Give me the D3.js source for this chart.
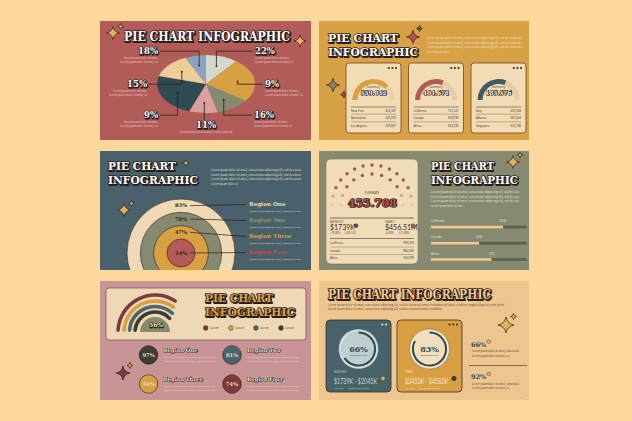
<!DOCTYPE html>
<html><head><meta charset="utf-8">
<script src="https://cdn.jsdelivr.net/npm/d3@7"></script>
<style>html,body{margin:0;padding:0;background:#FDD89D;}svg{display:block}</style>
</head><body>
<svg id="c" width="632" height="421"></svg>
<script>
// ---------------- DATA ----------------
const pieValues = [10.6, 24.4, 11.1, 9.4, 23.9, 13.6, 6.9];
const pieLabels = ['22%', '9%', '16%', '11%', '9%', '15%', '18%'];

const gaugeTotals = ['559.842', '404.671', '185.576'];
const gaugeShares = [75, 62, 62];
const gaugeCities = [['New York', 'Manhattan', 'Los Angeles'], ['California', 'Canada', 'Africa'], ['Italy', 'Albania', 'Singapore']];
const gaugeCityValues = [['332,347', '245,970', '235,847'], ['752,522', '369,590', '334,290'], ['492,328', '382,654', '332,784']];

const ringValues = [83, 78, 47, 14];
const ringRegions = ['Region One', 'Region Two', 'Region Three', 'Region Four'];

const summaryTotal = '455.708';
const summaryDots = [15, 11];
const summaryStats = [['MONTHLY', '$1739K', '+35.80%', '1,439.52K'], ['YEARLY', '$456.51M', '+4.86%', '$72.80M']];
const summaryCities = ['California', 'Canada', 'Africa'];
const summaryCityValues = ['993,323', '864,030', '334,990'];
const barCategories = ['California', 'Canada', 'Africa'];
const barValues = [75, 50, 63];
const barLabels = ['83%', '64%', '72%'];

const rainbowValues = [70, 72, 76, 79];
const rainbowCenter = '56%';
const legendItems = ['Lorem', 'Lorem', 'Lorem', 'Lorem'];
const regionValues = [97, 81, 56, 74];
const regionNames = ['Region One', 'Region Two', 'Region Three', 'Region Four'];

const rateValues = [66, 83];
const rateStats = [['MONTHLY', '$1739K - $2045K'], ['YEARLY', '$3452K - $4582K']];
const sideValues = [66, 92];

// ---------------- HELPERS ----------------
const svg = d3.select('#c');
const INK = '#2a1e1b';
const LOREM = 'Lorem ipsum dolor sit amet, consectetur adipiscing elit, sed do eiusmod tempor incididunt ut labore et dolore magna aliqua ut enim ad minim veniam';

function title(g, text, x, y, size, len, fill, anchor, sw) {
  sw = sw || 1;
  const set = s => {
    s.attr('x', x).attr('y', y).attr('font-family', 'DejaVu Serif').attr('font-weight', 'bold')
      .attr('font-size', size).attr('text-anchor', anchor || 'start').attr('stroke-linejoin', 'round').text(text);
    if (len) s.attr('textLength', len).attr('lengthAdjust', 'spacingAndGlyphs');
  };
  g.append('text').call(set).attr('transform', `translate(${size * 0.07},${size * 0.09})`)
    .attr('fill', INK).attr('stroke', INK).attr('stroke-width', size * 0.16 * sw);
  g.append('text').call(set).attr('fill', fill).attr('stroke', INK)
    .attr('stroke-width', size * 0.14 * sw).attr('paint-order', 'stroke');
}
function sparkle(g, cx, cy, r, fill) {
  const k = r * 0.16;
  const p = `M${cx},${cy - r} Q${cx + k},${cy - k} ${cx + r},${cy} Q${cx + k},${cy + k} ${cx},${cy + r} Q${cx - k},${cy + k} ${cx - r},${cy} Q${cx - k},${cy - k} ${cx},${cy - r}Z`;
  g.append('path').attr('d', p).attr('fill', fill).attr('stroke', INK).attr('stroke-width', 0.7).attr('stroke-linejoin', 'round');
}
function lorem(g, x, y, widths, color, size, gap, anchor) {
  widths.forEach((w, i) => {
    const n = Math.max(6, Math.round(w / (size * 0.48)));
    g.append('text').attr('x', x).attr('y', y + i * gap).attr('font-family', 'Open Sans')
      .attr('font-size', size).attr('fill', color).attr('text-anchor', anchor || 'start')
      .attr('textLength', w).attr('lengthAdjust', 'spacingAndGlyphs').text(LOREM.slice(0, n).trim());
  });
}
function small(g, x, y, text, size, color, anchor, family, weight) {
  return g.append('text').attr('x', x).attr('y', y).attr('font-family', family || 'Open Sans')
    .attr('font-size', size).attr('fill', color).attr('text-anchor', anchor || 'start')
    .attr('font-weight', weight || 'normal').text(text);
}
function hline(g, x1, x2, y, color, w) {
  g.append('line').attr('x1', x1).attr('x2', x2).attr('y1', y).attr('y2', y).attr('stroke', color).attr('stroke-width', w || 0.6);
}

// ---------------- PANELS ----------------
const panels = [
  { x: 100, y: 21, w: 211, h: 119, fill: '#B25C59' },
  { x: 319, y: 21, w: 210, h: 119, fill: '#D9A145' },
  { x: 100, y: 151, w: 211, h: 119, fill: '#48616A' },
  { x: 319, y: 151, w: 210, h: 119, fill: '#868A71' },
  { x: 100, y: 281, w: 211, h: 119, fill: '#C99495' },
  { x: 319, y: 281, w: 210, h: 119, fill: '#EDC58E' }
];
svg.selectAll('rect.panel').data(panels).join('rect').attr('class', 'panel')
  .attr('x', d => d.x).attr('y', d => d.y).attr('width', d => d.w).attr('height', d => d.h).attr('fill', d => d.fill);

// ===== Panel 1: pie =====
(function () {
  const g = svg.append('g');
  title(g, 'PIE CHART INFOGRAPHIC', 207, 41, 12.5, 166, '#fff', 'middle');
  sparkle(g, 113, 33, 6.5, '#E6B15A'); sparkle(g, 120.5, 26.5, 2.8, '#E6B15A');
  sparkle(g, 300, 41, 6, '#E6B15A');
  const cx = 206, cy = 84, rx = 49, ry = 29;
  const colors = ['#D5D8CA', '#D7A143', '#858B6E', '#DB9EA1', '#2F4A53', '#EECE98', '#8BA3C3'];
  const arcs = d3.pie().sort(null).value(d => d)(pieValues);
  const arc = d3.arc().innerRadius(0).outerRadius(ry);
  const mid = d3.arc().innerRadius(ry * 0.65).outerRadius(ry * 0.65);
  g.append('g').attr('transform', `translate(${cx},${cy}) scale(${rx / ry},1)`)
    .selectAll('path').data(arcs).join('path').attr('d', arc).attr('fill', (d, i) => colors[i]);
  const pos = [
    { x: 255, y: 54, s: 'R' }, { x: 265, y: 87, s: 'R' }, { x: 254, y: 118, s: 'R' },
    { x: 206, y: 128, s: 'B' }, { x: 158, y: 118, s: 'L' }, { x: 147, y: 87, s: 'L' }, { x: 158, y: 54, s: 'L' }
  ];
  arcs.forEach((d, i) => {
    const c = mid.centroid(d); const ax = cx + c[0] * rx / ry, ay = cy + c[1];
    const p = pos[i]; let pts;
    if (p.s === 'B') pts = [[ax, p.y - 8], [ax, ay]];
    else {
      const ly = p.y - 2.8, sx = p.s === 'R' ? p.x - 2 : p.x + 2;
      pts = [[sx, ly], [ax, ly], [ax, ay]];
    }
    g.append('path').attr('d', d3.line()(pts)).attr('fill', 'none').attr('stroke', INK).attr('stroke-width', 0.8);
    g.append('circle').attr('cx', ax).attr('cy', ay).attr('r', 0.9).attr('fill', INK);
    const anchor = p.s === 'R' ? 'start' : p.s === 'L' ? 'end' : 'middle';
    title(g, pieLabels[i], p.x, p.y, 8.5, null, '#fff', anchor);
    if (p.s === 'B') lorem(g, p.x, p.y + 4.5, [52], '#F2D2C9', 2.6, 4, 'middle');
    else lorem(g, p.x, p.y + 4.5, [34, 38], '#F2D2C9', 2.6, 4, anchor);
  });
})();

// ===== Panel 2: gauge cards =====
(function () {
  const g = svg.append('g');
  title(g, 'PIE CHART', 328, 42, 11.5, 70, '#fff');
  title(g, 'INFOGRAPHIC', 328, 56, 11.5, 90, '#fff');
  sparkle(g, 413, 37, 6.5, '#B3504F'); sparkle(g, 419.5, 28.5, 3, '#49666E');
  lorem(g, 427, 39, [95, 95, 95, 22], '#F7E6C6', 2.7, 4.7);
  sparkle(g, 333, 85, 6.5, '#7F8468'); sparkle(g, 344, 94.5, 3.5, '#A9484A');
  const cardX = [346, 408.5, 471], cw = 55, cy0 = 63, ch = 70;
  const colors = ['#D7A143', '#B35A57', '#3F5C66'];
  const tracks = ['#EDD09B', '#EACAA0', '#E7CBA2'];
  const ang = d3.scaleLinear().domain([0, 100]).range([-Math.PI / 2, Math.PI / 2]);
  gaugeTotals.forEach((tot, i) => {
    const x = cardX[i], cx = x + cw / 2, gy = cy0 + 37;
    g.append('rect').attr('x', x).attr('y', cy0).attr('width', cw).attr('height', ch).attr('rx', 3)
      .attr('fill', '#F1DCB6').attr('stroke', '#6B4526').attr('stroke-width', 0.8);
    [0, 1, 2].forEach(k => g.append('circle').attr('cx', x + cw - 5 - k * 3.6).attr('cy', cy0 + 5).attr('r', 1.1).attr('fill', '#3A2A22'));
    const a = d3.arc().innerRadius(16).outerRadius(21);
    g.append('path').attr('transform', `translate(${cx},${gy})`).attr('d', a({ startAngle: -Math.PI / 2, endAngle: Math.PI / 2 })).attr('fill', tracks[i]);
    g.append('path').attr('transform', `translate(${cx},${gy})`).attr('d', a({ startAngle: -Math.PI / 2, endAngle: ang(gaugeShares[i]) })).attr('fill', colors[i]);
    small(g, cx, 88, 'Summary', 3, '#4a3a30', 'middle');
    title(g, tot, cx, 94.5, 6, 26, '#fff', 'middle', 0.8);
    hline(g, x + 5, x + cw - 5, 107, '#5a4030', 0.6);
    gaugeCities[i].forEach((c, k) => {
      const yy = 111.5 + k * 7.6;
      small(g, x + 5, yy, c, 2.9, '#3a2a22');
      small(g, x + cw - 5, yy, gaugeCityValues[i][k], 2.9, '#3a2a22', 'end');
      if (k < 2) hline(g, x + 5, x + cw - 5, yy + 2.7, '#8a6a50', 0.5);
    });
  });
})();

// ===== Panel 3: concentric rings =====
(function () {
  const g = svg.append('g');
  title(g, 'PIE CHART', 108, 170, 11.5, 68, '#fff');
  title(g, 'INFOGRAPHIC', 108, 184, 11.5, 90, '#fff');
  sparkle(g, 186, 163, 3.2, '#E6B15A');
  lorem(g, 211, 171, [90, 90, 90, 27], '#EDE3D0', 2.7, 4.7);
  sparkle(g, 124, 210, 6.5, '#E6B15A'); sparkle(g, 131.5, 203.5, 2.8, '#E6B15A');
  const cx = 181, cy = 253;
  const rScale = d3.scaleLinear().domain([0, ringValues.length - 1]).range([54, 14]);
  const fills = ['#F0DAB5', '#858A70', '#D9A043', '#B35A57'];
  const nameColors = ['#EADBC0', '#8F9475', '#D9A043', '#B8534F'];
  g.append('clipPath').attr('id', 'p3clip').append('rect').attr('x', 100).attr('y', 151).attr('width', 211).attr('height', 119);
  const rg = g.append('g').attr('clip-path', 'url(#p3clip)');
  ringValues.forEach((v, i) => {
    rg.append('circle').attr('cx', cx).attr('cy', cy).attr('r', rScale(i)).attr('fill', fills[i]).attr('stroke', INK).attr('stroke-width', 0.6);
  });
  ringValues.forEach((v, i) => {
    const ly = i < ringValues.length - 1 ? cy - (rScale(i) + rScale(i + 1)) / 2 : cy;
    const ty = 206 + i * 16;
    g.append('line').attr('x1', cx + 9).attr('y1', ly).attr('x2', 246).attr('y2', ty - 1.5).attr('stroke', INK).attr('stroke-width', 0.7);
    small(g, cx, ly + 1.8, v + '%', 5.2, INK, 'middle', 'DejaVu Serif', 'bold');
    small(g, 249, ty, ringRegions[i], 5.6, nameColors[i], 'start', 'DejaVu Serif', 'bold');
    lorem(g, 249, ty + 6, [52], '#E7E2D8', 2.5, 4);
  });
})();

// ===== Panel 4: summary card + bars =====
(function () {
  const g = svg.append('g');
  g.append('rect').attr('x', 326).attr('y', 159).attr('width', 92).attr('height', 105).attr('rx', 5)
    .attr('fill', '#F0DCB7').attr('stroke', '#6a6450').attr('stroke-width', 0.5);
  const cx = 372, cy = 205;
  const radii = [40, 31];
  summaryDots.forEach((n, row) => {
    d3.range(n).forEach(k => {
      const a = -90 + k * 180 / (n - 1);
      const rad = a * Math.PI / 180, r = radii[row];
      const absA = Math.abs(a);
      const col = absA > 80 ? '#E5C8A8' : absA > 65 ? '#D6A396' : '#A7534D';
      g.append('circle').attr('cx', cx + r * Math.sin(rad)).attr('cy', cy - r * Math.cos(rad)).attr('r', 1.7).attr('fill', col);
    });
  });
  small(g, cx, 193.5, 'SUMMARY', 3, '#4a3a30', 'middle');
  title(g, summaryTotal, cx, 206.5, 11, 49, '#BE524D', 'middle', 0.6);
  hline(g, 330, 414, 218, '#4a3a30', 0.7);
  const sx = [330, 385], dotC = ['#3F5C66', '#B35A57'], dotX = [356, 413];
  summaryStats.forEach((s, i) => {
    small(g, sx[i], 222.5, s[0], 2.8, '#4a3a30');
    small(g, sx[i], 229.7, s[1], 7, '#3a2e2a', 'start', 'Lato');
    g.append('circle').attr('cx', dotX[i]).attr('cy', 225.7).attr('r', 2).attr('fill', dotC[i]).attr('stroke', INK).attr('stroke-width', 0.4);
    small(g, sx[i], 234, s[2], 2.6, '#5a4a40');
    small(g, sx[i] + 14, 234, s[3], 2.6, '#5a4a40');
  });
  hline(g, 330, 414, 238.5, '#4a3a30', 0.6);
  summaryCities.forEach((c, k) => {
    const yy = 244 + k * 7.5;
    small(g, 330, yy, c, 2.9, '#3a2a22');
    small(g, 414, yy, summaryCityValues[k], 2.9, '#3a2a22', 'end');
    if (k < 2) hline(g, 330, 414, yy + 3, '#8a7a60', 0.5);
  });
  title(g, 'PIE CHART', 431, 170, 11.5, 63, '#fff');
  title(g, 'INFOGRAPHIC', 431, 184, 11.5, 87, '#fff');
  sparkle(g, 513, 162, 6.5, '#E6B15A'); sparkle(g, 520, 155, 2.8, '#E6B15A');
  lorem(g, 431, 193, [88, 88, 88, 32], '#EEE9DC', 2.7, 4.5);
  const x = d3.scaleLinear().domain([0, 100]).range([431, 527]);
  barCategories.forEach((c, i) => {
    const by = 225.7 + i * 16.2;
    g.append('rect').attr('x', x(0)).attr('y', by).attr('width', x(100) - x(0)).attr('height', 2.7).attr('fill', '#5E614E');
    g.append('rect').attr('x', x(0)).attr('y', by).attr('width', x(barValues[i]) - x(0)).attr('height', 2.7).attr('fill', '#EFCB93');
    small(g, 431, by - 3.5, c, 3, '#F4EEDF');
    small(g, x(barValues[i]), by - 3.5, barLabels[i], 3, '#F4EEDF', 'middle');
  });
})();

// ===== Panel 5: rainbow =====
(function () {
  const g = svg.append('g');
  g.append('rect').attr('x', 106).attr('y', 288).attr('width', 200).attr('height', 52).attr('rx', 3)
    .attr('fill', '#EFD8B5').attr('stroke', '#6b4a40').attr('stroke-width', 0.7);
  const cx = 155, cy = 332;
  const ang = d3.scaleLinear().domain([0, 100]).range([-Math.PI / 2, Math.PI / 2]);
  const radii = [37, 31, 25.5, 20];
  const cols = ['#7C3B3B', '#D9A043', '#4A6670', '#3B3C33'];
  rainbowValues.forEach((v, i) => {
    const a = d3.arc().innerRadius(radii[i] - 1.8).outerRadius(radii[i] + 1.8).cornerRadius(1.8);
    g.append('path').attr('transform', `translate(${cx},${cy})`).attr('d', a({ startAngle: -Math.PI / 2, endAngle: ang(v) })).attr('fill', cols[i]);
  });
  g.append('path').attr('transform', `translate(${cx},${cy})`)
    .attr('d', d3.arc().innerRadius(0).outerRadius(15)({ startAngle: -Math.PI / 2, endAngle: Math.PI / 2 })).attr('fill', '#858A70');
  title(g, rainbowCenter, 156, 327, 6, null, '#F3E3C6', 'middle', 0.8);
  title(g, 'PIE CHART', 205, 302, 11.5, 68, '#D9A043');
  title(g, 'INFOGRAPHIC', 205, 316, 11.5, 90, '#D9A043');
  const lx = d3.scaleLinear().domain([0, 3]).range([205.7, 281]);
  legendItems.forEach((t, i) => {
    g.append('circle').attr('cx', lx(i)).attr('cy', 328).attr('r', 2.4).attr('fill', cols[i]).attr('stroke', INK).attr('stroke-width', 0.4);
    small(g, lx(i) + 4.5, 329, t, 2.8, '#4a3a30');
  });
  const circCols = ['#3D3F35', '#48646C', '#D9A043', '#7E3A3A'];
  regionValues.forEach((v, i) => {
    const px = i % 2 === 0 ? 148.5 : 232, py = i < 2 ? 355 : 384;
    g.append('circle').attr('cx', px).attr('cy', py).attr('r', 9.3).attr('fill', circCols[i]).attr('stroke', INK).attr('stroke-width', 0.6);
    small(g, px, py + 1.9, v + '%', 5.2, '#F2DEBD', 'middle', 'DejaVu Serif', 'bold');
    title(g, regionNames[i], px + 15, py - 3, 5.2, null, '#F4E6CC', 'start', 0.8);
    lorem(g, px + 15, py + 2.5, [52, 52], '#F2DCD6', 2.5, 4.5);
  });
  sparkle(g, 123, 373, 7, '#7C3B3B'); sparkle(g, 130, 365.5, 3, '#D9A043');
  small(g, 307, 396, '5', 2.5, '#5a3a3a', 'middle');
})();

// ===== Panel 6: completion cards =====
(function () {
  const g = svg.append('g');
  title(g, 'PIE CHART INFOGRAPHIC', 328, 299, 12, 163, '#EFC78F');
  lorem(g, 328, 305.8, [176, 114], '#5a4030', 2.7, 4.5);
  const cards = [{ x: 326, fill: '#48626A', disc: '#D3DEE0', inner: '#BFCED1', txt: '#C9D7DA', dot: '#E2B45A', dots: 2, dotc: '#D8E2E3' },
                 { x: 397, fill: '#D9A043', disc: '#F6E6C8', inner: '#F1DEBB', txt: '#F6E4C4', dot: '#3A3A35', dots: 3, dotc: '#3A2E28' }];
  rateValues.forEach((v, i) => {
    const c = cards[i], cx = c.x + 32.5, cy = 349;
    g.append('rect').attr('x', c.x).attr('y', 320).attr('width', 65).attr('height', 72).attr('rx', 4)
      .attr('fill', c.fill).attr('stroke', '#3b2d25').attr('stroke-width', 0.8);
    d3.range(c.dots).forEach(k => g.append('circle').attr('cx', c.x + 60 - k * 3.7).attr('cy', 324.5).attr('r', 1.1).attr('fill', c.dotc));
    g.append('circle').attr('cx', cx).attr('cy', cy).attr('r', 20).attr('fill', c.disc).attr('stroke', '#3b4a4a').attr('stroke-width', 0.4);
    g.append('circle').attr('cx', cx).attr('cy', cy).attr('r', 17.5).attr('fill', c.inner);
    g.append('path').attr('transform', `translate(${cx},${cy})`)
      .attr('d', d3.arc().innerRadius(15.6).outerRadius(17.6)({ startAngle: 0, endAngle: 2 * Math.PI * v / 100 })).attr('fill', '#2F4A53');
    small(g, cx, cy + 3, v + '%', 8, '#2F4A53', 'middle', 'DejaVu Serif', 'bold');
    small(g, cx, cy + 6.8, 'Completed Rate', 2.4, '#2F4A53', 'middle');
    small(g, c.x + 8, 373.3, rateStats[i][0], 2.6, c.txt);
    g.append('text').attr('x', c.x + 8).attr('y', 384).attr('font-family', 'Lato').attr('font-size', 7)
      .attr('fill', c.txt).attr('textLength', 43).attr('lengthAdjust', 'spacingAndGlyphs').text(rateStats[i][1]);
    g.append('circle').attr('cx', c.x + 57).attr('cy', 378.5).attr('r', 2.2).attr('fill', c.dot).attr('stroke', INK).attr('stroke-width', 0.4);
    small(g, c.x + 8, 388.5, '+25.60%', 2.4, c.txt);
    small(g, c.x + 22, 388.5, 'Lorem ipsum dolor', 2.4, c.txt);
  });
  sparkle(g, 506, 325, 8, '#E6B15A'); sparkle(g, 513.5, 316.5, 3, '#E6B15A');
  sideValues.forEach((v, i) => {
    const yy = 346.5 + i * 32.5;
    small(g, 471, yy, v + '%', 6.5, '#2F4A53', 'start', 'DejaVu Serif', 'bold');
    g.append('circle').attr('cx', 488.7).attr('cy', yy - 5).attr('r', 1.8).attr('fill', '#E2B45A').attr('stroke', INK).attr('stroke-width', 0.4);
    lorem(g, 472, yy + 5.5, [47, 37], '#4a3a30', 2.6, 4.8);
  });
  hline(g, 469, 527, 365.5, '#4a3a30', 0.7);
  small(g, 527, 396, '7', 2.5, '#4a3a30', 'end');
})();
</script>
</body></html>
